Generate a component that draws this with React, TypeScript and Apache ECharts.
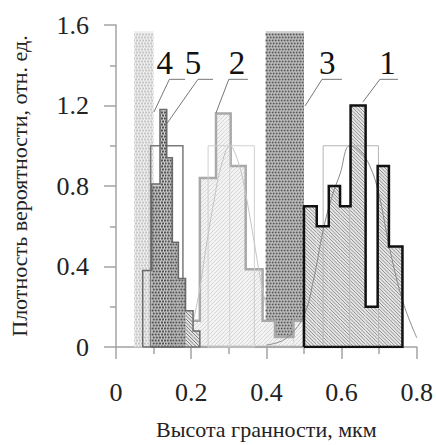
import React, { useEffect, useRef } from 'react';
import * as echarts from 'echarts';

// ---------- data ----------
const hist1Edges = [0.5, 0.534, 0.566, 0.596, 0.624, 0.664, 0.696, 0.726, 0.762];
const hist1Heights = [0.7, 0.6, 0.8, 0.7, 1.2, 0.2, 0.9, 0.5];

const hist2Edges = [0.184, 0.223, 0.266, 0.305, 0.345, 0.39, 0.423, 0.472, 0.5];
const hist2Heights = [0.13, 0.84, 1.16, 0.9, 0.386, 0.13, 0.05, 0.13];

const hist3Edges = [0.398, 0.5];
const hist3Heights = [1.57];

const hist4Edges = [0.048, 0.1];
const hist4Heights = [1.57];

const hist5Edges = [0.071, 0.095, 0.117, 0.135, 0.15, 0.166, 0.185, 0.205, 0.223];
const hist5Heights = [0.38, 0.81, 1.18, 0.94, 0.52, 0.34, 0.18, 0.08];

// uniform boxes: [from, to, height, centre line]
const box1 = [0.551, 0.698, 1.0, 0.622];
const box2 = [0.245, 0.368, 1.0, 0.303];
const box5 = [0.092, 0.178, 1.0];

const curve1X = [0.4, 0.45, 0.498, 0.525, 0.551, 0.575, 0.596, 0.622, 0.65, 0.675, 0.698, 0.729, 0.764, 0.8];
const curve1Y = [0.01, 0.04, 0.15, 0.33, 0.58, 0.75, 0.86, 1.0, 0.97, 0.9, 0.77, 0.48, 0.22, 0.046];

const curve2X = [0.18, 0.2, 0.22, 0.24, 0.26, 0.28, 0.303, 0.325, 0.345, 0.365, 0.385, 0.4];
const curve2Y = [0.03, 0.1, 0.26, 0.5, 0.72, 0.9, 1.0, 0.92, 0.76, 0.55, 0.33, 0.2];

const xTickLabels = ['0', '0.2', '0.4', '0.6', '0.8'];
const yTickLabels = ['0', '0.4', '0.8', '1.2', '1.6'];

// annotations: text, text centre (x,y), shelf from/to x, shelf y, pointer target (x,y)
const labelTexts = ['4', '5', '2', '3', '1'];
const labelTextX = [0.13, 0.205, 0.322, 0.562, 0.722];
const labelTextY = [1.41, 1.41, 1.41, 1.41, 1.41];
const shelfFromX = [0.142, 0.218, 0.3, 0.548, 0.702];
const shelfToX = [0.184, 0.258, 0.351, 0.601, 0.75];
const shelfY = [1.33, 1.33, 1.33, 1.33, 1.33];
const targetX = [0.101, 0.133, 0.266, 0.503, 0.657];
const targetY = [1.168, 1.104, 1.163, 1.198, 1.218];

// ---------- helpers ----------
type Tex = { kind: string; bg: string; fg: string; step: number; width: number };

const TEX: Record<string, Tex> = {
  s1: { kind: 'hatchDown', bg: '#e4e4e4', fg: '#7c7c7c', step: 3.5, width: 0.8 },
  s2: { kind: 'hatchUp', bg: '#f3f3f3', fg: '#d0d0d0', step: 4, width: 0.8 },
  s3: { kind: 'dots', bg: '#d2d2d2', fg: '#5a5a5a', step: 3, width: 2 },
  s4: { kind: 'dots', bg: '#efefef', fg: '#c6c6c6', step: 3, width: 2 },
  s5d: { kind: 'dots', bg: '#cdcdcd', fg: '#525252', step: 3, width: 2 },
  s5h: { kind: 'hatchDown', bg: '#e2e2e2', fg: '#666666', step: 3.5, width: 0.8 },
};
const hist5Tex = [null, 's5d', 's5d', 's5d', 's5d', 's5d', 's5h', 's5h'];

function bins(edges: number[], heights: number[]) {
  return heights.map((h, i) => [edges[i], edges[i + 1], h]);
}

function outline(edges: number[], heights: number[]) {
  const pts: number[][] = [[edges[0], 0]];
  heights.forEach((h, i) => {
    pts.push([edges[i], h]);
    pts.push([edges[i + 1], h]);
  });
  pts.push([edges[edges.length - 1], 0]);
  pts.push([edges[0], 0]);
  return pts;
}

function texChildren(L: number, T: number, R: number, B: number, t: Tex) {
  const ch: any[] = [
    { type: 'rect', shape: { x: L, y: T, width: R - L, height: B - T }, style: { fill: t.bg } },
  ];
  const s = t.step;
  if (t.kind === 'hatchDown') {
    for (let k = Math.ceil((L - B) / s); k * s <= R - T; k++) {
      const c = k * s;
      const y1 = Math.max(T, L - c);
      const y2 = Math.min(B, R - c);
      if (y2 > y1)
        ch.push({ type: 'line', shape: { x1: y1 + c, y1, x2: y2 + c, y2 }, style: { stroke: t.fg, lineWidth: t.width } });
    }
  } else if (t.kind === 'hatchUp') {
    for (let k = Math.ceil((L + T) / s); k * s <= R + B; k++) {
      const c = k * s;
      const y1 = Math.max(T, c - R);
      const y2 = Math.min(B, c - L);
      if (y2 > y1)
        ch.push({ type: 'line', shape: { x1: c - y1, y1, x2: c - y2, y2 }, style: { stroke: t.fg, lineWidth: t.width } });
    }
  } else if (t.kind === 'dots') {
    const period = s;
    for (let k = Math.ceil(T / s); (k + 0.5) * s <= B; k++) {
      const y = (k + 0.5) * s;
      if (y - t.width / 2 < T) continue;
      const off = ((L % period) + (k % 2) * (period / 2)) % period;
      ch.push({
        type: 'line',
        shape: { x1: L, y1: y, x2: R, y2: y },
        style: { stroke: t.fg, lineWidth: t.width, lineDash: [2, 1], lineDashOffset: off },
      });
    }
  }
  return ch;
}

function fillSeries(data: number[][], texFor: (i: number) => Tex | null, z: number) {
  return {
    type: 'custom',
    z,
    silent: true,
    clip: false,
    encode: { x: [0, 1], y: 2 },
    data,
    renderItem: (params: any, api: any) => {
      const t = texFor(params.dataIndex);
      if (!t) return { type: 'group', children: [] };
      const p0 = api.coord([api.value(0), api.value(2)]);
      const p1 = api.coord([api.value(1), 0]);
      return { type: 'group', children: texChildren(p0[0], p0[1], p1[0], p1[1], t) };
    },
  };
}

function outlineSeries(edges: number[], heights: number[], color: string, width: number, z: number) {
  return {
    type: 'line',
    z,
    silent: true,
    showSymbol: false,
    symbol: 'none',
    data: outline(edges, heights),
    lineStyle: { color, width, join: 'miter' },
  };
}

function boxSeries(box: number[], color: string, width: number, z: number) {
  return {
    type: 'custom',
    z,
    silent: true,
    clip: false,
    encode: { x: [0, 1], y: 2 },
    data: [box],
    renderItem: (params: any, api: any) => {
      const p0 = api.coord([box[0], box[2]]);
      const p1 = api.coord([box[1], 0]);
      const ch: any[] = [
        {
          type: 'rect',
          shape: { x: p0[0], y: p0[1], width: p1[0] - p0[0], height: p1[1] - p0[1] },
          style: { fill: 'none', stroke: color, lineWidth: width },
        },
      ];
      if (box.length > 3) {
        const c0 = api.coord([box[3], box[2]]);
        ch.push({ type: 'line', shape: { x1: c0[0], y1: c0[1], x2: c0[0], y2: p1[1] }, style: { stroke: color, lineWidth: width } });
      }
      return { type: 'group', children: ch };
    },
  };
}

function curveSeries(xs: number[], ys: number[], color: string, z: number) {
  return {
    type: 'line',
    z,
    silent: true,
    smooth: 0.4,
    showSymbol: false,
    symbol: 'none',
    data: xs.map((x, i) => [x, ys[i]]),
    lineStyle: { color, width: 1 },
  };
}

const serif = 'Liberation Serif';

export default function App() {
  const ref = useRef<HTMLDivElement>(null);
  useEffect(() => {
    if (!ref.current) return;
    const chart = echarts.init(ref.current, undefined, { renderer: 'svg' });
    const annData = labelTexts.map((_, i) => [
      labelTextX[i], labelTextY[i], shelfFromX[i], shelfToX[i], shelfY[i], targetX[i], targetY[i],
    ]);
    const axisGrey = '#a3a3a3';
    chart.setOption({
      animation: false,
      backgroundColor: '#ffffff',
      grid: { left: 116, right: 19, top: 25, bottom: 94 },
      xAxis: {
        type: 'value',
        min: 0,
        max: 0.8,
        interval: 0.2,
        axisLine: { show: true, onZero: false, lineStyle: { color: axisGrey, width: 1.5 } },
        axisTick: { show: true, length: 12, lineStyle: { color: axisGrey, width: 1.5 } },
        minorTick: { show: true, splitNumber: 2, length: 7, lineStyle: { color: axisGrey, width: 1.5 } },
        splitLine: { show: false },
        axisLabel: {
          margin: 32,
          fontSize: 26,
          fontFamily: serif,
          color: '#222',
          formatter: (v: number) => xTickLabels[Math.round(v / 0.2)] ?? '',
        },
        name: 'Высота гранности, мкм',
        nameLocation: 'middle',
        nameGap: 71,
        nameTextStyle: { fontSize: 22, fontFamily: serif, color: '#222' },
      },
      yAxis: {
        type: 'value',
        min: 0,
        max: 1.6,
        interval: 0.4,
        axisLine: { show: true, onZero: false, lineStyle: { color: axisGrey, width: 1.5 } },
        axisTick: { show: true, length: 12, lineStyle: { color: axisGrey, width: 1.5 } },
        minorTick: { show: true, splitNumber: 2, length: 6, lineStyle: { color: axisGrey, width: 1.5 } },
        splitLine: { show: false },
        axisLabel: {
          margin: 27,
          fontSize: 26,
          fontFamily: serif,
          color: '#222',
          formatter: (v: number) => yTickLabels[Math.round(v / 0.4)] ?? '',
        },
        name: 'Плотность вероятности, отн. ед.',
        nameLocation: 'middle',
        nameGap: 86,
        nameTextStyle: { fontSize: 22, fontFamily: serif, color: '#222' },
      },
      series: [
        fillSeries(bins(hist4Edges, hist4Heights), () => TEX.s4, 1),
        fillSeries(bins(hist3Edges, hist3Heights), () => TEX.s3, 2),
        fillSeries(bins(hist2Edges, hist2Heights), () => TEX.s2, 3),
        outlineSeries(hist2Edges, hist2Heights, '#a9a9a9', 2.5, 4),
        fillSeries(bins(hist1Edges, hist1Heights), () => TEX.s1, 5),
        boxSeries(box2, '#cfcfcf', 1, 6),
        curveSeries(curve2X, curve2Y, '#c4c4c4', 6),
        boxSeries(box1, '#b5b5b5', 1, 6),
        curveSeries(curve1X, curve1Y, '#8a8a8a', 6),
        outlineSeries(hist1Edges, hist1Heights, '#111111', 2.5, 7),
        boxSeries(box5, '#7a7a7a', 1.5, 8),
        fillSeries(bins(hist5Edges, hist5Heights), (i) => (hist5Tex[i] ? TEX[hist5Tex[i] as string] : null), 9),
        outlineSeries(hist5Edges, hist5Heights, '#6a6a6a', 1.5, 10),
        {
          type: 'custom',
          z: 11,
          silent: true,
          clip: false,
          encode: { x: 0, y: 1 },
          data: annData,
          renderItem: (params: any, api: any) => {
            const i = params.dataIndex;
            const t = api.coord([api.value(0), api.value(1)]);
            const s0 = api.coord([api.value(2), api.value(4)]);
            const s1 = api.coord([api.value(3), api.value(4)]);
            const p = api.coord([api.value(5), api.value(6)]);
            return {
              type: 'group',
              children: [
                {
                  type: 'polyline',
                  shape: { points: [p, s0, s1] },
                  style: { fill: 'none', stroke: '#777', lineWidth: 1 },
                },
                {
                  type: 'text',
                  x: t[0],
                  y: t[1],
                  style: {
                    text: labelTexts[i],
                    fontSize: 33,
                    fontFamily: serif,
                    fill: '#111',
                    align: 'center',
                    verticalAlign: 'middle',
                  },
                },
              ],
            };
          },
        },
      ],
    });
    return () => chart.dispose();
  }, []);
  return (
    <div
      ref={ref}
      style={{ position: 'fixed', left: 0, top: 0, width: 436, height: 445, background: '#fff' }}
    />
  );
}
